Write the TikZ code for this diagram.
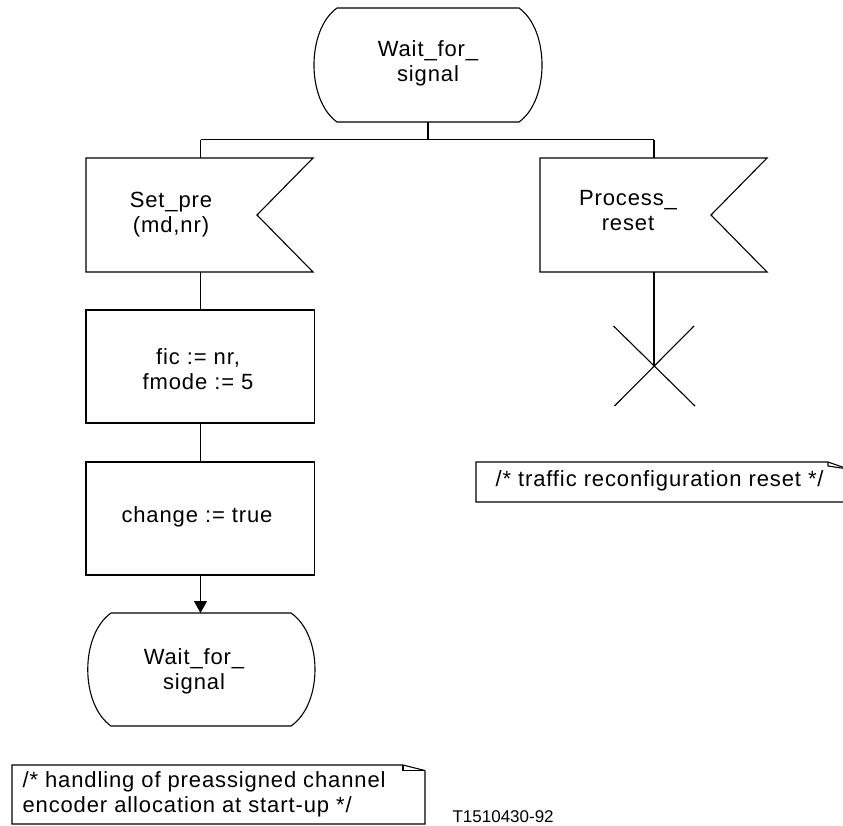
\documentclass[tikz,border=0pt]{standalone}
\usepackage{fontspec}
\setmainfont{Liberation Sans}
\newfontfamily\sdl[LetterSpace=4]{Liberation Sans}
\usetikzlibrary{arrows.meta}
\begin{document}
\begin{tikzpicture}[x=1pt,y=-1pt,line width=1.1pt,
  lbl/.style={font=\sdl\fontsize{22}{25}\selectfont,align=center,inner sep=0pt},
  cmt/.style={font=\sdl\fontsize{22}{25}\selectfont,align=left,inner sep=0pt,anchor=west},
  tag/.style={font=\fontsize{17}{20}\selectfont,inner sep=0pt},
  flow/.style={line width=1.1pt},
  arr/.style={-{Triangle[length=12pt,width=13pt]}}]
\useasboundingbox (0,0) rectangle (843,825);

% anchors
\coordinate (stateTopB) at (428,122);
\coordinate (fork) at (428,139.5);
\coordinate (forkL) at (200.5,139.5);
\coordinate (forkR) at (654,139.5);
\coordinate (in1T) at (200.5,158);
\coordinate (in1B) at (200.5,272);
\coordinate (in2T) at (654,158);
\coordinate (in2B) at (654,272);
\coordinate (t1T) at (200.5,310);
\coordinate (t1B) at (200.5,423);
\coordinate (t2T) at (200.5,462);
\coordinate (t2B) at (200.5,575);
\coordinate (state2T) at (200.5,613);
\coordinate (stopC) at (654,367);

% top state
\draw (337,8) -- (519,8) .. controls (549.7,30) and (549.7,100) .. (519,122)
  -- (337,122) .. controls (306.3,100) and (306.3,30) .. (337,8);
\node[lbl] (st1) at (428,63) {Wait\_for\_\\signal};

% inputs
\draw (86,158) -- (313,158) -- (257,215) -- (313,272) -- (86,272) -- cycle;
\node[lbl] (in1) at (171,215) {Set\_pre\\(md,nr)};
\draw (540,158) -- (767,158) -- (711,215) -- (767,272) -- (540,272) -- cycle;
\node[lbl] (in2) at (628,211) {Process\_\\reset};

% tasks
\draw (86,310) rectangle (314.5,423);
\node[lbl] (t1) at (198,369) {fic := nr,\\fmode := 5};
\draw (86,462) rectangle (314.5,575);
\node[lbl] (t2) at (197,517) {change := true};

% bottom state
\draw (111,613) -- (291,613) .. controls (323,635) and (323,704) .. (291,726)
  -- (111,726) .. controls (80,704) and (80,635) .. (111,613);
\node[lbl] (st2) at (194,671) {Wait\_for\_\\signal};

% connectors
\draw[flow] (stateTopB) -- (fork);
\draw[flow] (forkL) -- (forkR);
\draw[flow] (forkL) -- (in1T);
\draw[flow] (forkR) -- (in2T);
\draw[flow] (in1B) -- (t1T);
\draw[flow] (t1B) -- (t2T);
\draw[flow,arr] (t2B) -- (state2T);
\draw[flow] (in2B) -- (stopC);

% stop
\draw (613.5,326) -- (695,406);
\draw (694,326) -- (614.5,406);

% comments
\draw (848,502) -- (476,502) -- (476,462) -- (828,462) -- (848,469);
\draw (828,462) -- (828,466) -- (848,469);
\node[cmt] (c1) at (495,481) {/* traffic reconfiguration reset */};

\draw (425,770.5) -- (425,824) -- (12,824) -- (12,765) -- (403,765) -- (425,770.5);
\draw (403,765) -- (403,770.5) -- (425,770.5);
\node[cmt] (c2) at (22,794) {/* handling of preassigned channel\\encoder allocation at start-up */};

\node[tag,anchor=west] (id) at (452,817) {T1510430-92};
\end{tikzpicture}
\end{document}
